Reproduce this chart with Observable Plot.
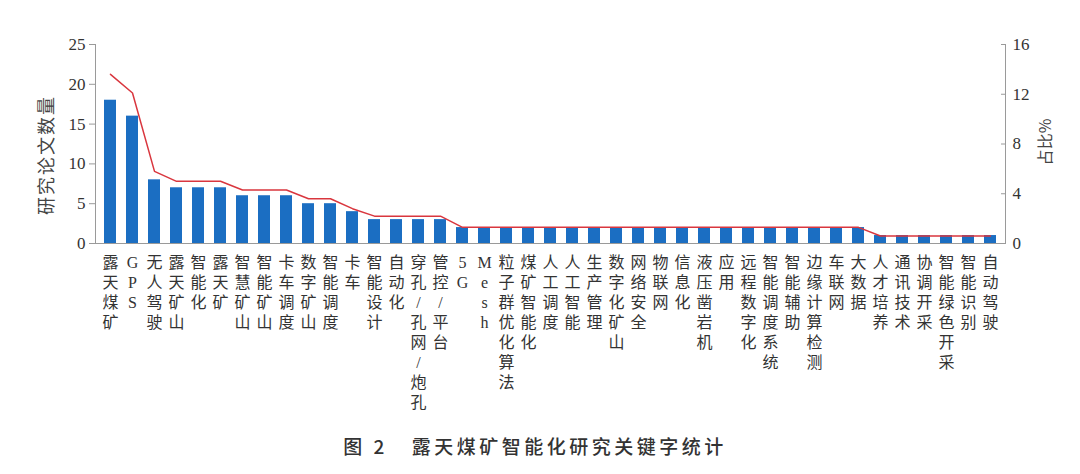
<!DOCTYPE html>
<html>
<head>
<meta charset="utf-8">
<script src="https://cdn.jsdelivr.net/npm/d3@7"></script>
<script src="https://cdn.jsdelivr.net/npm/@observablehq/plot@0.6"></script>
<style>
  html, body { margin: 0; padding: 0; background: #fff; }
  #chart { width: 1080px; }
  #caption {
    width: 1070px; text-align: center; margin-top: 14px; line-height: 24px;
    font-family: "Noto Sans CJK SC", sans-serif; font-size: 19px; color: #333;
    font-weight: 500; letter-spacing: 3.5px;
  }
  #caption .num { margin-right: 24px; }
</style>
</head>
<body>
<div id="chart"></div>
<div id="caption"><span class="num">图 2</span>露天煤矿智能化研究关键字统计</div>
<script>
const keywords = ["露天煤矿","GPS","无人驾驶","露天矿山","智能化","露天矿","智慧矿山","智能矿山","卡车调度","数字矿山","智能调度","卡车","智能设计","自动化","穿孔/孔网/炮孔","管控/平台","5G","Mesh","粒子群优化算法","煤矿智能化","人工调度","人工智能","生产管理","数字化矿山","网络安全","物联网","信息化","液压凿岩机","应用","远程数字化","智能调度系统","智能辅助","边缘计算检测","车联网","大数据","人才培养","通讯技术","协调开采","智能绿色开采","智能识别","自动驾驶"];
const counts = [18,16,8,7,7,7,6,6,6,5,5,4,3,3,3,3,2,2,2,2,2,2,2,2,2,2,2,2,2,2,2,2,2,2,2,1,1,1,1,1,1];
const shares = [13.6,12.1,5.8,5.0,5.0,5.0,4.3,4.3,4.3,3.6,3.6,2.8,2.2,2.2,2.2,2.2,1.3,1.3,1.3,1.3,1.3,1.3,1.3,1.3,1.3,1.3,1.3,1.3,1.3,1.3,1.3,1.3,1.3,1.3,1.3,0.6,0.6,0.6,0.6,0.6,0.6];
const leftTicks = [0,5,10,15,20,25];
const rightTicks = [0,4,8,12,16];
const leftMax = 25, rightMax = 16;
const leftTitle = "研究论文数量";
const rightTitle = "占比%";

const table = keywords.map((k, i) => ({keyword: k, count: counts[i], share: shares[i]}));
const toLeft = p => p * leftMax / rightMax;

const font = '"Liberation Serif", "Noto Sans CJK SC", serif';

const chart = Plot.plot({
  width: 1080,
  height: 420,
  marginLeft: 95,
  marginRight: 75,
  marginTop: 44,
  marginBottom: 177,
  style: {fontFamily: font, color: "#333", background: "#fff"},
  x: {type: "band", domain: keywords, paddingInner: 0.47, paddingOuter: 0.2},
  y: {domain: [0, leftMax]},
  marks: [
    Plot.barY(table, {x: "keyword", y: "count", fill: "#1b6ec2"}),
    Plot.line(table, {x: "keyword", y: d => toLeft(d.share), stroke: "#d9363e", strokeWidth: 1.5}),
    Plot.frame({anchor: "left", stroke: "#9a9a9a"}),
    Plot.frame({anchor: "right", stroke: "#9a9a9a"}),
    Plot.frame({anchor: "bottom", stroke: "#9a9a9a"}),
    Plot.axisY({anchor: "left", ticks: leftTicks, tickSize: 6, tickPadding: 4, label: null, fontSize: 17, stroke: "#9a9a9a"}),
    Plot.axisY({anchor: "right", ticks: rightTicks.map(toLeft), tickFormat: d => String(Math.round(d * rightMax / leftMax)), tickSize: -5, tickPadding: 12, label: null, fontSize: 17, stroke: "#9a9a9a"}),
    Plot.axisX({anchor: "bottom", tickSize: 0, tickPadding: 10, label: null, fontSize: 16, lineHeight: 1.25,
      tickFormat: d => [...d].join("\n")}),
    Plot.text([leftTitle], {frameAnchor: "left", textAnchor: "middle", dx: -48, dy: 11, rotate: -90, fontSize: 18, fill: "#444", fontFamily: '"Noto Sans CJK SC", sans-serif', className: "ytitle"}),
    Plot.text([rightTitle], {frameAnchor: "right", textAnchor: "middle", dx: 40, dy: -2, rotate: -90, fontSize: 16, fill: "#444", fontFamily: '"Noto Sans CJK SC", sans-serif'})
  ]
});
d3.select(chart).selectAll(".ytitle text").attr("letter-spacing", "2px");
document.getElementById("chart").appendChild(chart);
</script>
</body>
</html>
